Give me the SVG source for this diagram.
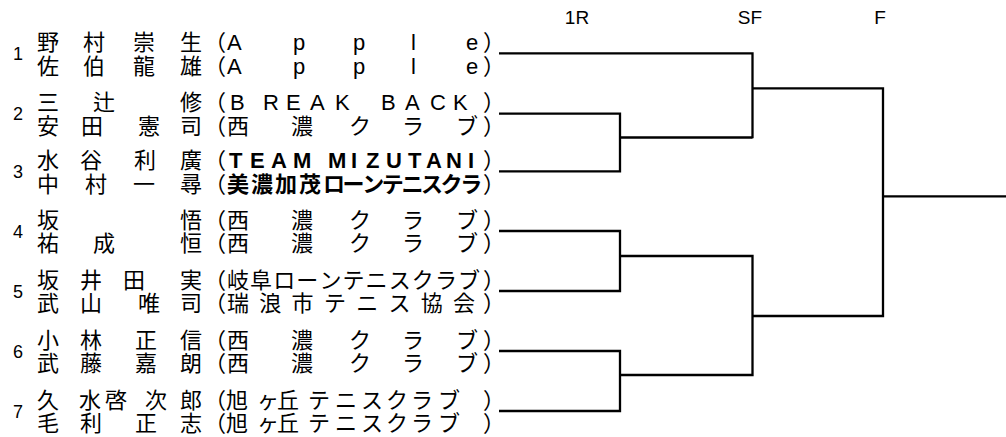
<svg xmlns="http://www.w3.org/2000/svg" width="1006" height="437" viewBox="0 0 1006 437">
<style>
.n{font-family:"Noto Sans CJK JP",sans-serif;font-size:22px;fill:#000}
.k{font-family:"Liberation Sans","Noto Sans CJK JP",sans-serif;font-size:22px;fill:#000}
.b{font-weight:bold}
.num{font-family:"Liberation Sans",sans-serif;font-size:18px;text-anchor:middle;fill:#000}
.r{font-family:"Liberation Sans",sans-serif;font-size:19px;text-anchor:middle;fill:#000}
.c{fill:none;stroke:#000;stroke-width:2.3;stroke-linejoin:miter}
</style>
<rect width="1006" height="437" fill="#fff"/>
<g id="rounds">
<text class="r" x="577" y="24">1R</text>
<text class="r" x="750" y="24">SF</text>
<text class="r" x="880" y="24">F</text>
</g>
<g id="entry1">
<text class="num" x="18" y="60">1</text>
<text class="n" x="37 83 133 180" y="50">野村崇生</text>
<text class="k" x="204 227 293 353 411 466 483" y="50">（Apple）</text>
<text class="n" x="37 83 133 180" y="73.5">佐伯龍雄</text>
<text class="k" x="204 227 293 353 411 466 483" y="73.5">（Apple）</text>
</g>
<g id="entry2">
<text class="num" x="18" y="120.4">2</text>
<text class="n" x="37 93 180" y="110.4">三辻修</text>
<text class="k" x="204 230 263 286 310 335 359 381 405 430 453 483" y="110.4">（BREAK BACK）</text>
<text class="n" x="37 81 138 180" y="133.9">安田憲司</text>
<text class="k" x="204 227 291 349 402 456 483" y="133.9">（西濃クラブ）</text>
</g>
<g id="entry3">
<text class="num" x="18" y="178">3</text>
<text class="n" x="37 80 134 180" y="168">水谷利廣</text>
<text class="k" x="204 229 250 271 293 318 328 351 366 386 408 426 446 468 483" y="168">（<tspan class="b">TEAM MIZUTANI</tspan>）</text>
<text class="n" x="37 85 133 180" y="191.5">中村一尋</text>
<text class="k" x="204 227 251 275 299 323 342.6 362.2 381.8 401.4 421 440.6 460.2 483" y="191.5">（<tspan class="b">美濃加茂ローンテニスクラ</tspan>）</text>
</g>
<g id="entry4">
<text class="num" x="18" y="237.7">4</text>
<text class="n" x="37 180" y="227.7">坂悟</text>
<text class="k" x="204 227 291 349 402 456 483" y="227.7">（西濃クラブ）</text>
<text class="n" x="37 93 180" y="251.2">祐成恒</text>
<text class="k" x="204 227 291 349 402 456 483" y="251.2">（西濃クラブ）</text>
</g>
<g id="entry5">
<text class="num" x="18" y="297.7">5</text>
<text class="n" x="37 80 123 180" y="287.7">坂井田実</text>
<text class="k" x="204 227 250.1 273.2 296.3 319.4 342.5 365.6 388.7 411.8 434.9 458 483" y="287.7">（岐阜ローンテニスクラブ）</text>
<text class="n" x="37 80 138 180" y="311.2">武山唯司</text>
<text class="k" x="204 227 259.3 291.6 323.9 356.2 388.5 420.8 453.1 483" y="311.2">（瑞浪市テニス協会）</text>
</g>
<g id="entry6">
<text class="num" x="18" y="357.7">6</text>
<text class="n" x="37 80 135 180" y="347.7">小林正信</text>
<text class="k" x="204 227 291 349 402 456 483" y="347.7">（西濃クラブ）</text>
<text class="n" x="37 80 135 180" y="371.2">武藤嘉朗</text>
<text class="k" x="204 227 291 349 402 456 483" y="371.2">（西濃クラブ）</text>
</g>
<g id="entry7">
<text class="num" x="18" y="417.7">7</text>
<text class="n" x="37 79 105 145 180" y="407.7">久水啓次郎</text>
<text class="k" x="204 226 257 277 308 335 361 386 411 438 483" y="407.7">（旭ヶ丘テニスクラブ）</text>
<text class="n" x="37 80 135 180" y="431.2">毛利正志</text>
<text class="k" x="204 226 257 277 308 335 361 386 411 438 483" y="431.2">（旭ヶ丘テニスクラブ）</text>
</g>
<g id="connectors">
<path class="c" d="M499,53.3 H752.5 V138.3"/>
<path class="c" d="M499,113.7 H620 V171.3 H499"/>
<path class="c" d="M620,137.5 H752.5"/>
<path class="c" d="M752.5,88.3 H883 V316 H752.5"/>
<path class="c" d="M499,231 H620 V291 H499"/>
<path class="c" d="M620,256 H752.5 V375 H620"/>
<path class="c" d="M499,351 H620 V411 H499"/>
<path class="c" d="M883,196.3 H1006"/>
</g>
</svg>
